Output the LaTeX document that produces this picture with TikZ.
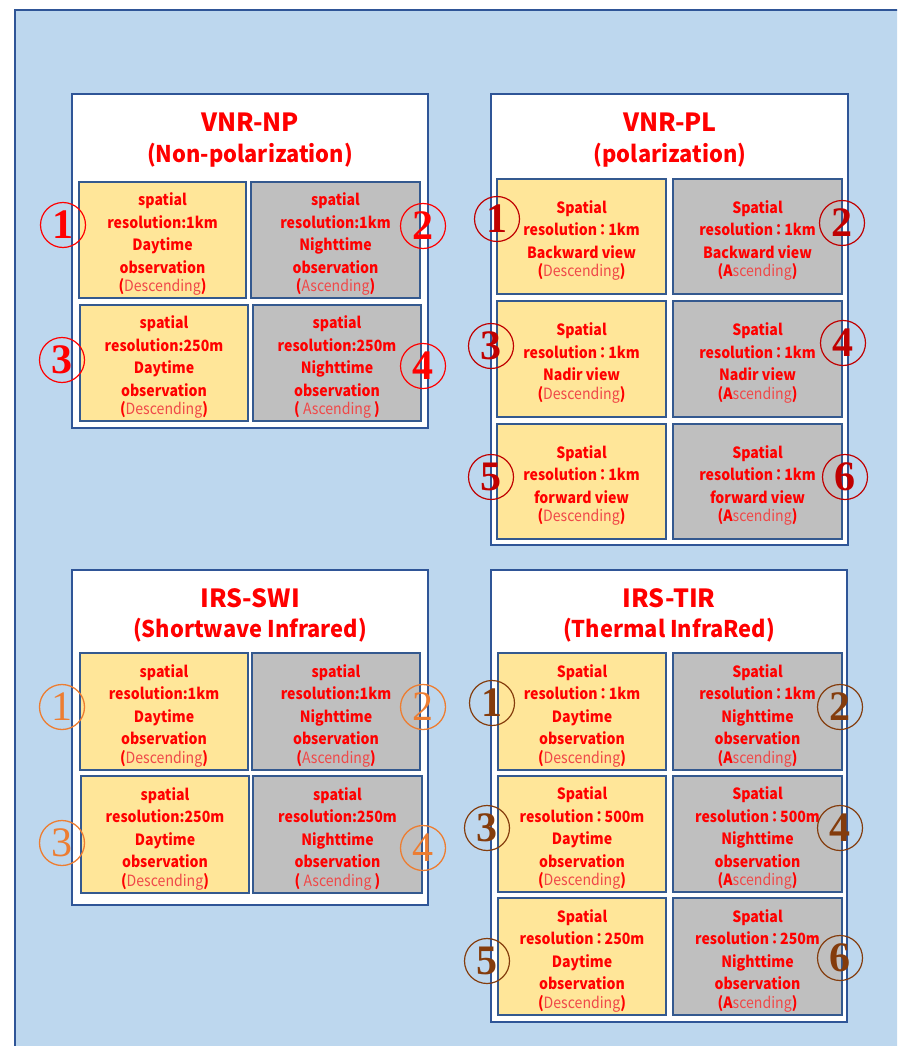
\documentclass[tikz,border=0pt]{standalone}
\usepackage{fontspec}
\setmainfont{Noto Sans CJK JP}
\newfontfamily\cellfont{Noto Sans CJK JP}[FakeStretch=0.91]
\newfontfamily\subfont{Noto Sans CJK JP}[FakeStretch=0.95]
\newfontfamily\numfont{Liberation Serif}
\definecolor{bgblue}{HTML}{BDD7EE}
\definecolor{frame}{HTML}{2F5597}
\definecolor{cellframe}{HTML}{34598F}
\definecolor{yel}{HTML}{FFE699}
\definecolor{gry}{HTML}{BFBFBF}
\definecolor{desc}{HTML}{F04848}
\definecolor{darkred}{HTML}{C00000}
\definecolor{orng}{HTML}{ED7D31}
\definecolor{brwn}{HTML}{843C0C}
\newcommand\Dsc{(\textmd{\color{desc}Descending})}
\newcommand\Asc{(\textmd{\color{desc}Ascending})}
\newcommand\AscSp{( \textmd{\color{desc}Ascending} )}
\newcommand\AscA{(A\textmd{\color{desc}scending})}
\newcommand\fc{\hspace{-1.5pt}：\hspace{-1.5pt}}
\tikzset{
  panel/.style={draw=frame, line width=2pt, fill=white},
  cellbase/.style={draw=cellframe, line width=2.2pt, rectangle, inner sep=0pt, align=center,
    text=red, font=\cellfont\bfseries\fontsize{15.5}{22.5}\selectfont},
  ycell/.style={cellbase, fill=yel},
  gcell/.style={cellbase, fill=gry},
  ttl/.style={text=red, font=\bfseries\fontsize{25}{25}\selectfont, inner sep=0pt},
  sttl/.style={text=red, font=\subfont\bfseries\fontsize{23}{23}\selectfont, inner sep=0pt},
  circnum/.style={circle, draw=#1, line width=1.2pt, minimum size=45pt, inner sep=0pt,
    text=#1, font=\numfont\bfseries\fontsize{42}{42}\selectfont},
  circthin/.style={circle, draw=#1, line width=1.3pt, minimum size=45pt, inner sep=0pt,
    text=#1, font=\numfont\fontsize{42}{42}\selectfont},
}
% cell macro: name, x1, y1, x2, y2, style, text
\newcommand\cellbox[7]{%
  \node[#6, minimum width={(#4)-(#2)}, minimum height={(#5)-(#3)}]
    (#1) at ({((#2)+(#4))/2},{((#3)+(#5))/2}) {};
  \node[text=red, align=center, inner sep=0pt, font=\cellfont\bfseries\fontsize{15.5}{22.5}\selectfont]
    (#1txt) at ({((#2)+(#4))/2},{((#3)+(#5))/2+4}) {#7};}
\begin{document}
\begin{tikzpicture}[x=1pt,y=-1pt]
\useasboundingbox (0,0) rectangle (897,1046);
\clip (0,0) rectangle (897,1046);
\draw[draw=frame, line width=2pt, fill=bgblue] (15,10) rectangle (910,1060);

% ---------- Panel 1: VNR-NP
\node[panel, minimum width=356pt, minimum height=334pt] (P1) at (250,261) {};
\node[ttl] (P1t) at (250,122) {VNR-NP};
\node[sttl] (P1s) at (250,155) {(Non-polarization)};
\cellbox{P1a}{79}{182}{246}{298}{ycell}{spatial\\resolution:1km\\Daytime\\observation\\[-4pt]\Dsc}
\cellbox{P1b}{251}{182}{420}{298}{gcell}{spatial\\resolution:1km\\Nighttime\\observation\\[-4pt]\Asc}
\cellbox{P1c}{80}{305}{248}{421}{ycell}{spatial\\resolution:250m\\Daytime\\observation\\[-4pt]\Dsc}
\cellbox{P1d}{253}{305}{421}{421}{gcell}{spatial\\resolution:250m\\Nighttime\\observation\\[-4pt]\AscSp}
\node[circnum=red] (P1n1) at (63,225) {1};
\node[circnum=red] (P1n2) at (423,226) {2};
\node[circnum=red] (P1n3) at (62,360) {3};
\node[circnum=red] (P1n4) at (423,366) {4};

% ---------- Panel 2: VNR-PL
\node[panel, minimum width=357pt, minimum height=451pt] (P2) at (669.5,319.5) {};
\node[ttl] (P2t) at (670,122) {VNR-PL};
\node[sttl] (P2s) at (670,155) {(polarization)};
\cellbox{P2a}{497}{179}{666}{294}{ycell}{Spatial\\resolution\fc 1km\\Backward view\\[-4pt]\Dsc}
\cellbox{P2b}{673}{179}{842}{294}{gcell}{Spatial\\resolution\fc 1km\\Backward view\\[-4pt]\AscA}
\cellbox{P2c}{497}{301}{666}{417}{ycell}{Spatial\\resolution\fc 1km\\Nadir view\\[-4pt]\Dsc}
\cellbox{P2d}{673}{301}{842}{417}{gcell}{Spatial\\resolution\fc 1km\\Nadir view\\[-4pt]\AscA}
\cellbox{P2e}{497}{424}{666}{539}{ycell}{Spatial\\resolution\fc 1km\\forward view\\[-4pt]\Dsc}
\cellbox{P2f}{673}{424}{842}{539}{gcell}{Spatial\\resolution\fc 1km\\forward view\\[-4pt]\AscA}
\node[circnum=darkred] (P2n1) at (497,219) {1};
\node[circnum=darkred] (P2n2) at (842,223) {2};
\node[circnum=darkred] (P2n3) at (491,346) {3};
\node[circnum=darkred] (P2n4) at (843,343) {4};
\node[circnum=darkred] (P2n5) at (491,477) {5};
\node[circnum=darkred] (P2n6) at (845,477) {6};

% ---------- Panel 3: IRS-SWI
\node[panel, minimum width=356pt, minimum height=335pt] (P3) at (250,737.5) {};
\node[ttl] (P3t) at (250,598) {IRS-SWI};
\node[sttl] (P3s) at (250,630) {(Shortwave Infrared)};
\cellbox{P3a}{80}{653}{248}{770}{ycell}{spatial\\resolution:1km\\Daytime\\observation\\[-4pt]\Dsc}
\cellbox{P3b}{252}{653}{420}{770}{gcell}{spatial\\resolution:1km\\Nighttime\\observation\\[-4pt]\Asc}
\cellbox{P3c}{81}{776}{249}{893}{ycell}{spatial\\resolution:250m\\Daytime\\observation\\[-4pt]\Dsc}
\cellbox{P3d}{253}{776}{422}{893}{gcell}{spatial\\resolution:250m\\Nighttime\\observation\\[-4pt]\AscSp}
\node[circthin=orng] (P3n1) at (62,707) {1};
\node[circthin=orng] (P3n2) at (423,707) {2};
\node[circthin=orng] (P3n3) at (62,843) {3};
\node[circthin=orng] (P3n4) at (423,848) {4};

% ---------- Panel 4: IRS-TIR
\node[panel, minimum width=356pt, minimum height=452pt] (P4) at (669,796) {};
\node[ttl] (P4t) at (669,598) {IRS-TIR};
\node[sttl] (P4s) at (669,630) {(Thermal InfraRed)};
\cellbox{P4a}{498}{653}{666}{770}{ycell}{Spatial\\resolution\fc 1km\\Daytime\\observation\\[-4pt]\Dsc}
\cellbox{P4b}{673}{653}{842}{770}{gcell}{Spatial\\resolution\fc 1km\\Nighttime\\observation\\[-4pt]\AscA}
\cellbox{P4c}{498}{776}{666}{892}{ycell}{Spatial\\resolution\fc 500m\\Daytime\\observation\\[-4pt]\Dsc}
\cellbox{P4d}{673}{776}{842}{892}{gcell}{Spatial\\resolution\fc 500m\\Nighttime\\observation\\[-4pt]\AscA}
\cellbox{P4e}{498}{898}{666}{1015}{ycell}{Spatial\\resolution\fc 250m\\Daytime\\observation\\[-4pt]\Dsc}
\cellbox{P4f}{673}{898}{842}{1015}{gcell}{Spatial\\resolution\fc 250m\\Nighttime\\observation\\[-4pt]\AscA}
\node[circnum=brwn] (P4n1) at (492,703) {1};
\node[circnum=brwn] (P4n2) at (840,707) {2};
\node[circnum=brwn] (P4n3) at (487,828) {3};
\node[circnum=brwn] (P4n4) at (840,828) {4};
\node[circnum=brwn] (P4n5) at (487,961) {5};
\node[circnum=brwn] (P4n6) at (840,958) {6};
\end{tikzpicture}
\end{document}
